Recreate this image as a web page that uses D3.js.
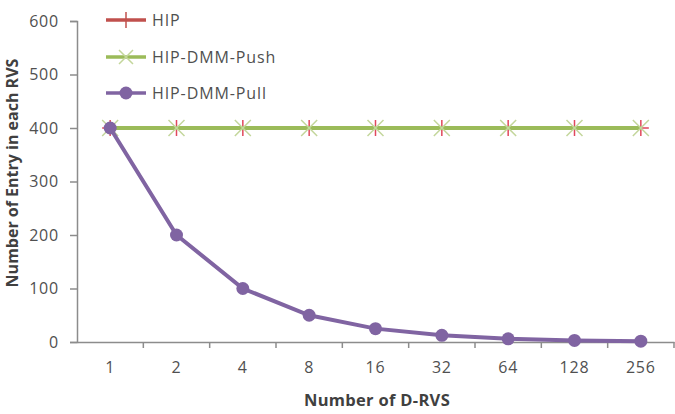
<!DOCTYPE html>
<html>
<head>
<meta charset="utf-8">
<script src="https://cdn.jsdelivr.net/npm/d3@7"></script>
<style>
  body { margin: 0; background: #fff; }
  svg { display: block; font-family: "Open Sans", sans-serif; }
</style>
</head>
<body>
<svg width="675" height="414"></svg>
<script>
// data
const categories = ["1", "2", "4", "8", "16", "32", "64", "128", "256"];
const hipValues = [400, 400, 400, 400, 400, 400, 400, 400, 400];
const pushValues = [400, 400, 400, 400, 400, 400, 400, 400, 400];
const pullValues = [400, 200, 100, 50, 25, 12.5, 6, 3, 1.5];
const yTicks = [0, 100, 200, 300, 400, 500, 600];
const seriesNames = ["HIP", "HIP-DMM-Push", "HIP-DMM-Pull"];

const svg = d3.select("svg");
const axisColor = "#8c8c8c";
const labelColor = "#505050";

// scales
const x = d3.scaleBand()
    .domain(categories)
    .range([77, 674])
    .padding(0);
const y = d3.scaleLinear()
    .domain([0, 600])
    .range([342, 21]);
const cx = d => x(d) + x.bandwidth() / 2;

// y axis
const yAxis = svg.append("g")
    .attr("transform", "translate(77,0)")
    .call(d3.axisLeft(y).tickValues(yTicks).tickSize(7).tickPadding(11));
// x axis
const xAxis = svg.append("g")
    .attr("transform", "translate(0,342)")
    .call(d3.axisBottom(x).tickSize(0).tickPadding(20));

[yAxis, xAxis].forEach(g => {
  g.select(".domain").attr("stroke", axisColor).attr("stroke-width", 1.5);
  g.selectAll(".tick line").attr("stroke", axisColor).attr("stroke-width", 1.5);
  g.selectAll("text")
      .attr("fill", labelColor)
      .style("font-size", "16px")
      .style("font-family", "Open Sans, sans-serif")
      .style("letter-spacing", "0.8px");
});

// x tick marks at the band boundaries
svg.append("g")
    .selectAll("line")
    .data(categories.slice(1).concat(["end"]))
    .join("line")
    .attr("x1", (d, i) => x(categories[0]) + (i + 1) * x.bandwidth())
    .attr("x2", (d, i) => x(categories[0]) + (i + 1) * x.bandwidth())
    .attr("y1", 342)
    .attr("y2", 348)
    .attr("stroke", axisColor)
    .attr("stroke-width", 1.5);

// axis titles
svg.append("text")
    .attr("x", 377)
    .attr("y", 406)
    .attr("text-anchor", "middle")
    .attr("fill", "#404040")
    .style("font-size", "16.5px")
    .style("font-weight", "bold")
    .style("letter-spacing", "0.3px")
    .text("Number of D-RVS");

svg.append("text")
    .attr("transform", "translate(18,173) rotate(-90)")
    .attr("text-anchor", "middle")
    .attr("fill", "#404040")
    .style("font-size", "16px")
    .style("font-weight", "bold")
    .text("Number of Entry in each RVS");

const line = d3.line()
    .x((d, i) => cx(categories[i]))
    .y(d => y(d));

const red = "#c0504d";
const green = "#9bbb59";
const greenLight = "#c3d69b";
const purple = "#8064a2";

// HIP
svg.append("path")
    .datum(hipValues)
    .attr("d", line)
    .attr("fill", "none")
    .attr("stroke", red)
    .attr("stroke-width", 3.5);
svg.append("g")
    .selectAll("path")
    .data(hipValues)
    .join("path")
    .attr("d", (d, i) => {
      const px = cx(categories[i]), py = y(d);
      return `M${px},${py - 8}V${py + 8}M${px - 8},${py}H${px + 8}`;
    })
    .attr("stroke", "#e0485c")
    .attr("stroke-width", 1.5);

// HIP-DMM-Push
svg.append("path")
    .datum(pushValues)
    .attr("d", line)
    .attr("fill", "none")
    .attr("stroke", green)
    .attr("stroke-width", 4);
svg.append("g")
    .selectAll("path")
    .data(pushValues)
    .join("path")
    .attr("d", (d, i) => {
      const px = cx(categories[i]), py = y(d);
      return `M${px - 8},${py - 8}L${px + 8},${py + 8}M${px - 8},${py + 8}L${px + 8},${py - 8}`;
    })
    .attr("stroke", greenLight)
    .attr("stroke-width", 1.5);

// HIP-DMM-Pull
svg.append("path")
    .datum(pullValues)
    .attr("d", line)
    .attr("fill", "none")
    .attr("stroke", purple)
    .attr("stroke-width", 4);
svg.append("g")
    .selectAll("circle")
    .data(pullValues)
    .join("circle")
    .attr("cx", (d, i) => cx(categories[i]))
    .attr("cy", d => y(d))
    .attr("r", 6.5)
    .attr("fill", purple);

// legend
const legendY = [20, 57, 93];
const legend = svg.append("g");
seriesNames.forEach((name, i) => {
  const ly = legendY[i];
  const col = [red, green, purple][i];
  legend.append("line")
      .attr("x1", 106).attr("x2", 146)
      .attr("y1", ly).attr("y2", ly)
      .attr("stroke", col)
      .attr("stroke-width", 3.5);
  if (i === 0) {
    legend.append("path")
        .attr("d", `M126,${ly - 8}V${ly + 8}`)
        .attr("stroke", red).attr("stroke-width", 1.5);
  } else if (i === 1) {
    legend.append("path")
        .attr("d", `M119,${ly - 7}L133,${ly + 7}M119,${ly + 7}L133,${ly - 7}`)
        .attr("stroke", greenLight).attr("stroke-width", 1.5);
  } else {
    legend.append("circle")
        .attr("cx", 126).attr("cy", ly).attr("r", 6.5)
        .attr("fill", purple);
  }
  legend.append("text")
      .attr("x", 152)
      .attr("y", ly + 6)
      .attr("fill", labelColor)
      .style("font-size", "16px")
      .style("letter-spacing", "0.9px")
      .text(name);
});
</script>
</body>
</html>
